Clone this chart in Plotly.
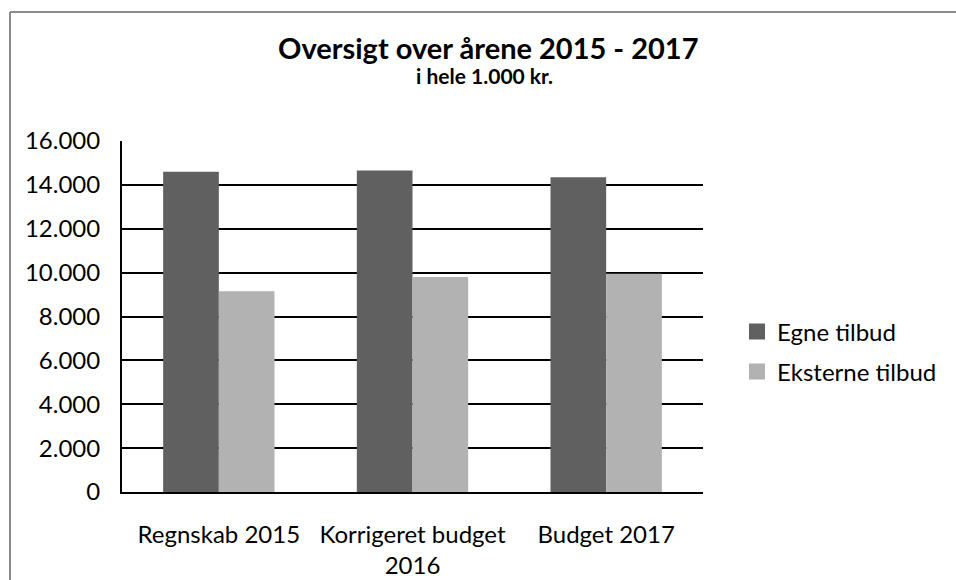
import plotly.graph_objects as go

categories = ["Regnskab 2015", "Korrigeret budget<br>2016", "Budget 2017"]
egne_tilbud = [14600, 14650, 14350]
eksterne_tilbud = [9150, 9800, 9950]
series_names = ["Egne tilbud", "Eksterne tilbud"]
y_ticks = [0, 2000, 4000, 6000, 8000, 10000, 12000, 14000, 16000]

DARK = "#606060"
LIGHT = "#b2b2b2"
FONT = "Lato"

W, H = 956, 580
L, R, T, B = 122, 703, 141, 492


def px_x(p):
    return (p - L) / (R - L)


def px_y(p):
    return (B - p) / (B - T)


fig = go.Figure()
fig.add_trace(go.Bar(x=categories, y=egne_tilbud, name=series_names[0],
                     marker=dict(color=DARK, line=dict(width=0)), showlegend=False))
fig.add_trace(go.Bar(x=categories, y=eksterne_tilbud, name=series_names[1],
                     marker=dict(color=LIGHT, line=dict(width=0)), showlegend=False))

# legend proxies
fig.add_trace(go.Scatter(x=[None], y=[None], mode="markers", name=series_names[0],
                         marker=dict(symbol="square", size=16, color=DARK),
                         legend="legend", hoverinfo="skip"))
fig.add_trace(go.Scatter(x=[None], y=[None], mode="markers", name=series_names[1],
                         marker=dict(symbol="square", size=16, color=LIGHT),
                         legend="legend2", hoverinfo="skip"))

fig.update_layout(
    width=W, height=H,
    margin=dict(l=L, r=W - R, t=T, b=H - B, pad=0, autoexpand=False),
    paper_bgcolor="white", plot_bgcolor="white",
    separators=",.",
    barmode="group", bargap=0.425, bargroupgap=0,
    font=dict(family=FONT, size=24, color="black"),
    showlegend=True,
    legend=dict(x=px_x(737), y=px_y(332), xanchor="left", yanchor="middle",
                font=dict(family=FONT, size=24, color="black"),
                bgcolor="rgba(0,0,0,0)", itemclick=False),
    legend2=dict(x=px_x(737), y=px_y(372), xanchor="left", yanchor="middle",
                 font=dict(family=FONT, size=24, color="black"),
                 bgcolor="rgba(0,0,0,0)", itemclick=False),
    xaxis=dict(type="category", showline=True, linecolor="black", linewidth=2,
               showgrid=False, zeroline=False, ticks="", automargin=False,
               tickfont=dict(family=FONT, size=24, color="black"),
               ticklabelstandoff=20),
    yaxis=dict(range=[0, 16000], tickvals=y_ticks, tickformat=",d",
               showline=True, linecolor="black", linewidth=2,
               showgrid=True, gridcolor="black", gridwidth=2,
               zeroline=False, ticks="", automargin=False,
               tickfont=dict(family=FONT, size=24, color="black"),
               ticklabelstandoff=15),
    annotations=[
        dict(text="<b>Oversigt over årene 2015 - 2017</b>", xref="paper", yref="paper",
             x=px_x(488), y=px_y(47), xanchor="center", yanchor="middle",
             showarrow=False, font=dict(family=FONT, size=29, color="black")),
        dict(text="<b>i hele 1.000 kr.</b>", xref="paper", yref="paper",
             x=px_x(484), y=px_y(75), xanchor="center", yanchor="middle",
             showarrow=False, font=dict(family=FONT, size=21, color="black")),
    ],
    shapes=[
        dict(type="line", xref="paper", yref="paper",
             x0=px_x(10), x1=px_x(10), y0=px_y(H), y1=px_y(12),
             line=dict(color="#8c8c8c", width=2), layer="above"),
        dict(type="line", xref="paper", yref="paper",
             x0=px_x(10), x1=px_x(W), y0=px_y(12), y1=px_y(12),
             line=dict(color="#8c8c8c", width=2), layer="above"),
    ],
)

fig.write_html("out.html")
